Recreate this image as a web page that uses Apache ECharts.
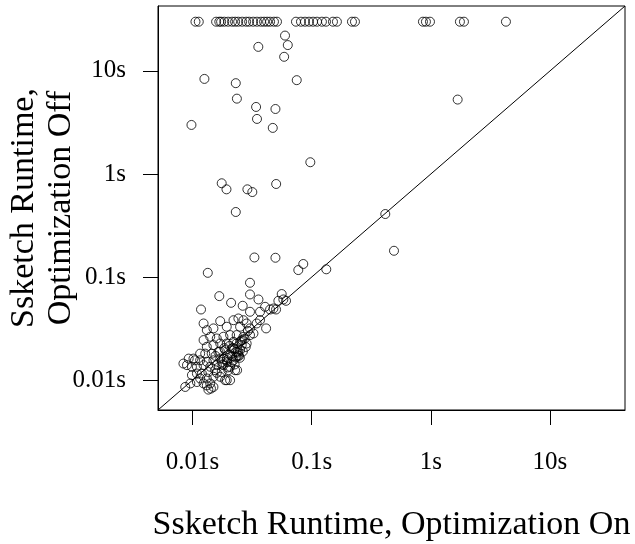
<!DOCTYPE html>
<html>
<head>
	<meta charset="utf-8">
	<title>echarts</title>
	<script type="text/javascript" src="https://cdn.jsdelivr.net/npm/echarts@6/dist/echarts.min.js"></script>
	<style>html,body{margin:0;padding:0;background:#fff;}</style>
</head>
<body>
	<div id="mychar" style="width: 635px;height:544px;"></div>

	<script type="text/javascript">
		// axis range (seconds) and labelled ticks
		var axisMin = 0.00514;
		var axisMax = 42.6;
		var tickValues = [0.01, 0.1, 1, 10];

		// runs that hit the cap with optimization off
		var timeoutOff = 30;
		var timedOutOn = [0.0106, 0.0113, 0.0158, 0.0168, 0.0174, 0.0185, 0.0199, 0.0215, 0.0228, 0.0242,
			0.0261, 0.0282, 0.0299, 0.0323, 0.0348, 0.0376, 0.0399, 0.0423, 0.0448, 0.0483, 0.0512,
			0.0739, 0.0814, 0.0880, 0.0951, 0.1028, 0.111, 0.122, 0.132, 0.151, 0.163, 0.218, 0.231,
			0.859, 0.910, 0.984, 1.755, 1.897, 4.27];

		// remaining runs: optimization on (x) / off (y)
		var onTimes = [
			0.0598, 0.0631, 0.0357, 0.0588, 0.0126, 0.0231, 0.0750, 0.0236, 0.0342, 0.0497, 0.0348, 0.00981, 0.0472, 1.68,
			0.0975, 0.0176, 0.0193, 0.0289, 0.0318, 0.0504, 0.0231, 0.415, 0.491, 0.0331, 0.0497, 0.0851, 0.0773, 0.1327, 0.01345,
			0.0304, 0.0168, 0.0304, 0.0211, 0.0264, 0.0358, 0.0118, 0.0561, 0.0579, 0.0610, 0.0526, 0.0448, 0.0478, 0.0503, 0.0304, 0.0369, 0.0407,
			0.0124, 0.0171, 0.0132, 0.0150, 0.0194, 0.0221, 0.0243, 0.0268, 0.0285, 0.0304, 0.0346, 0.0369, 0.0415, 0.0251,
			0.0304, 0.0268, 0.0235, 0.0207, 0.0182, 0.0160, 0.0141, 0.0124, 0.0132, 0.0150, 0.0171, 0.0194, 0.0221, 0.0251,
			0.0285, 0.0325, 0.0214, 0.0188, 0.0165, 0.0145, 0.0128, 0.0116, 0.0207, 0.0235, 0.0221, 0.0194, 0.0171, 0.0150,
			0.0132, 0.0116, 0.0105, 0.0093, 0.0090, 0.0099, 0.0109, 0.0124, 0.0141, 0.0160, 0.0182, 0.0207, 0.0228, 0.0200,
			0.0176, 0.0155, 0.0136, 0.0120, 0.0109, 0.0099, 0.0116, 0.0132, 0.0150, 0.0171, 0.0194, 0.0207, 0.0141, 0.0150,
			0.0132, 0.0124, 0.0109, 0.0096, 0.0087, 0.0143, 0.0243, 0.0232, 0.0259, 0.0084, 0.0102, 0.0136, 0.0188, 0.0237, 0.0251,
			0.0213, 0.0226, 0.0246, 0.0198, 0.0184, 0.0219, 0.0240, 0.0256, 0.0274, 0.0292, 0.0160, 0.0178, 0.0196, 0.0230,
			0.0185, 0.0205, 0.0225, 0.0240, 0.0215, 0.0195, 0.0178, 0.0250, 0.0265, 0.0280, 0.0170, 0.0156, 0.0235, 0.0262
		];
		var offTimes = [
			22.0, 17.8, 17.1, 13.7, 8.36, 7.60, 8.13, 5.38, 4.47, 4.27, 3.42, 2.99, 2.80, 5.27,
			1.30, 0.813, 0.710, 0.710, 0.668, 0.800, 0.428, 0.409, 0.180, 0.155, 0.154, 0.134, 0.117, 0.119, 0.110,
			0.0881, 0.0654, 0.0679, 0.0563, 0.0527, 0.0607, 0.0485, 0.0685, 0.0607, 0.0589, 0.0589, 0.0485, 0.0496, 0.0485, 0.0461, 0.0461, 0.0515,
			0.0355, 0.0374, 0.0306, 0.0318, 0.0330, 0.0382, 0.0397, 0.0382, 0.0355, 0.0318, 0.0355, 0.0382, 0.0318, 0.0330,
			0.0274, 0.0264, 0.0274, 0.0274, 0.0264, 0.0254, 0.0264, 0.0245, 0.0211, 0.0219, 0.0227, 0.0227, 0.0236, 0.0236,
			0.0227, 0.0284, 0.0203, 0.0196, 0.0188, 0.0181, 0.0181, 0.0181, 0.0175, 0.0169, 0.0156, 0.0156, 0.0162, 0.0156,
			0.0151, 0.0156, 0.0156, 0.0162, 0.0140, 0.0135, 0.0135, 0.0140, 0.0135, 0.0140, 0.0140, 0.0135, 0.0125, 0.0125,
			0.0120, 0.0125, 0.0120, 0.0116, 0.0116, 0.0112, 0.0104, 0.0104, 0.0108, 0.0108, 0.0100, 0.0100, 0.0093, 0.0086,
			0.0089, 0.0093, 0.0096, 0.0093, 0.0086, 0.0083, 0.0175, 0.0188, 0.0219, 0.0145, 0.0162, 0.0081, 0.0100, 0.0125, 0.0196,
			0.0150, 0.0142, 0.0172, 0.0133, 0.0160, 0.0205, 0.0190, 0.0242, 0.0252, 0.0300, 0.0118, 0.0142, 0.0150, 0.0166,
			0.0205, 0.0215, 0.0200, 0.0185, 0.0170, 0.0165, 0.0150, 0.0165, 0.0190, 0.0210, 0.0190, 0.0172, 0.0228, 0.0245
		];

		var points = onTimes.map(function (v, i) { return [v, offTimes[i]]; })
			.concat(timedOutOn.map(function (v) { return [v, timeoutOff]; }));

		var font = 'Liberation Serif';
		var mychar = echarts.init(document.getElementById("mychar"));
		var option = {
			animation: false,
			backgroundColor: '#fff',
			grid: {
				left: 158, right: 10, top: 6, bottom: 134,
				outerBoundsMode: 'none',
				containLabel: false,
				show: true, borderColor: '#000', borderWidth: 1
			},
			xAxis: {
				type: 'log',
				logBase: 10,
				min: axisMin,
				max: axisMax,
				name: 'Ssketch Runtime, Optimization On',
				nameLocation: 'middle',
				nameGap: 98,
				nameMoveOverlap: false,
				nameTextStyle: { fontFamily: font, fontSize: 34, color: '#000' },
				axisLine: { show: true, lineStyle: { color: '#000', width: 1 } },
				axisTick: { show: true, length: 15, customValues: tickValues, lineStyle: { color: '#000', width: 1 } },
				axisLabel: {
					customValues: tickValues,
					margin: 40,
					fontFamily: font, fontSize: 25, color: '#000',
					formatter: function (v) { return v + 's'; }
				},
				splitLine: { show: false }
			},
			yAxis: {
				type: 'log',
				logBase: 10,
				min: axisMin,
				max: axisMax,
				name: 'Ssketch Runtime,\nOptimization Off',
				nameLocation: 'middle',
				nameRotate: 90,
				nameGap: 78,
				nameMoveOverlap: false,
				nameTextStyle: { fontFamily: font, fontSize: 34, color: '#000', lineHeight: 37 },
				axisLine: { show: true, lineStyle: { color: '#000', width: 1 } },
				axisTick: { show: true, length: 15, customValues: tickValues, lineStyle: { color: '#000', width: 1 } },
				axisLabel: {
					customValues: tickValues,
					margin: 32,
					fontFamily: font, fontSize: 25, color: '#000',
					formatter: function (v) { return v + 's'; }
				},
				splitLine: { show: false }
			},
			series: [
				{
					name: 'y = x',
					type: 'line',
					data: [[axisMin, axisMin], [axisMax, axisMax]],
					symbol: 'none',
					lineStyle: { color: '#000', width: 1 },
					silent: true
				},
				{
					name: 'runs',
					type: 'scatter',
					data: points,
					symbol: 'circle',
					symbolSize: 9,
					itemStyle: { color: 'rgba(0,0,0,0)', borderColor: '#000', borderWidth: 1 }
				}
			]
		};

		mychar.setOption(option);
	</script>
</body>
</html>
